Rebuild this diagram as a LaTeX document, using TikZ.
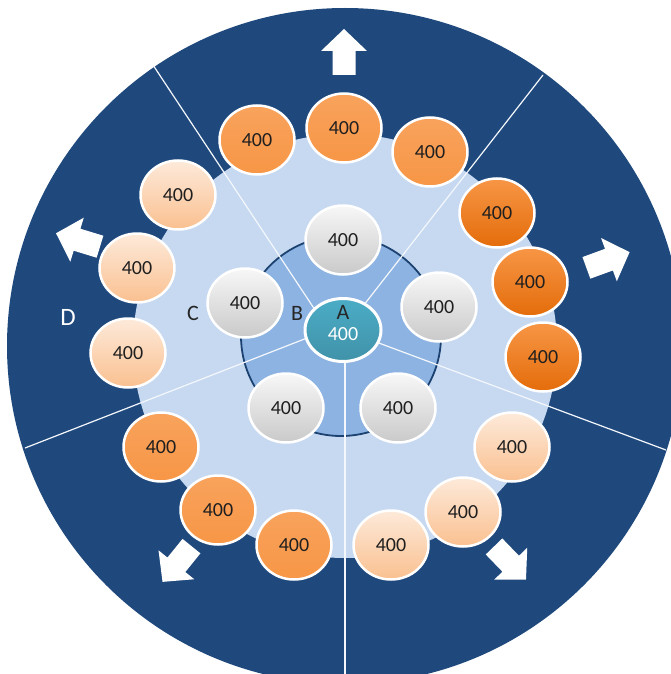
\documentclass[tikz,border=0pt]{standalone}
\usepackage{fontspec}
\setmainfont{Carlito}
\usetikzlibrary{shapes.geometric}

\definecolor{ringnavy}{HTML}{1F497D}
\definecolor{ringpale}{HTML}{C6D9F1}
\definecolor{ringmid}{HTML}{8DB3E2}
\definecolor{hubteal}{HTML}{4BACC6}
\definecolor{orgA}{HTML}{F79646}
\definecolor{orgB}{HTML}{E46C0A}
\definecolor{peachA}{HTML}{FDEADA}
\definecolor{peachB}{HTML}{FAC090}

\begin{document}
\begin{tikzpicture}[x=1pt,y=-1pt]


\tikzset{
  Seat/.style = { ellipse, draw=white, line width=2.5pt, inner sep=0pt,
                  minimum width=75pt, minimum height=69pt,
                  font=\fontsize{20}{20}\selectfont, text=black!88 },
  GraySeat/.style = { Seat, top color=gray!6, bottom color=gray!42 },
  OrangeSeat/.style = { Seat, top color=orgA!88!white, bottom color=orgA },
  DeepSeat/.style = { Seat, top color=orgA, bottom color=orgB },
  PeachSeat/.style = { Seat, top color=peachA, bottom color=peachB },
  Spoke/.style = { draw=white!80!ringpale, line width=1.2pt },
  Letter/.style = { font=\fontsize{22}{22}\selectfont, text=black!85 },
  pics/outarrow/.style = { code = {
    \fill[white] (-23,-11.5) -- (1,-11.5) -- (1,-23) -- (23,0)
                 -- (1,23) -- (1,11.5) -- (-23,11.5) -- cycle; } } }

  \useasboundingbox (0,0) rectangle (670,674);
  \coordinate (O) at (345,346);

  % rings
  \fill[ringnavy] (O) circle (338pt);
  \fill[ringpale] (O) circle (212pt);
  \filldraw[fill=ringmid, draw=ringnavy!90!black, line width=1.8pt] (341,336) circle (100pt);

  % spokes, inner ends hidden behind the hub
  \coordinate (ulin) at (325,325);  \coordinate (ulout) at (153,65);
  \coordinate (urin) at (360,310);  \coordinate (urout) at (543,75);
  \coordinate (llin) at (325,331);  \coordinate (llout) at (25,448);
  \coordinate (lrin) at (360,336);  \coordinate (lrout) at (666,450);
  \coordinate (dnin) at (345,340);  \coordinate (dnout) at (345,690);
  \draw[Spoke] (ulin) -- (ulout);
  \draw[Spoke] (urin) -- (urout);
  \draw[Spoke] (llin) -- (llout);
  \draw[Spoke] (lrin) -- (lrout);
  \draw[Spoke] (dnin) -- (dnout);

  % inner ring
  \node[GraySeat] (g1) at (343,240) {400};
  \node[GraySeat] (g2) at (439,307) {400};
  \node[GraySeat] (g3) at (398,408) {400};
  \node[GraySeat] (g4) at (286,408) {400};
  \node[GraySeat] (g5) at (245,303) {400};

  % hub
  \node[Seat, line width=3pt, minimum width=76pt, minimum height=63pt,
        top color=hubteal, bottom color=hubteal!85!black] (hub) at (343,330) {};
  \node[Letter] (labA) at (343,312) {A};
  \node[font=\fontsize{20}{20}\selectfont, text=white] (hubnum) at (343,334) {400};
  \node[Letter] (labB) at (297,313) {B};
  \node[Letter] (labC) at (193,313) {C};
  \node[font=\fontsize{25}{25}\selectfont, text=white] (labD) at (68,317) {D};

  % outer ring
  \node[OrangeSeat] (t1) at (257,140) {400};
  \node[OrangeSeat] (t2) at (344,128) {400};
  \node[OrangeSeat] (t3) at (430,152) {400};

  \node[DeepSeat] (r1) at (497,213) {400};
  \node[DeepSeat] (r2) at (530,282) {400};
  \node[DeepSeat] (r3) at (543,357) {400};

  \node[PeachSeat] (p1) at (512,447) {400};
  \node[PeachSeat] (p2) at (463,512) {400};
  \node[PeachSeat] (p3) at (391,545) {400};

  \node[OrangeSeat] (l1) at (161,447) {400};
  \node[OrangeSeat] (l2) at (218,510) {400};
  \node[OrangeSeat] (l3) at (294,545) {400};

  \node[PeachSeat] (w1) at (178,195) {400};
  \node[PeachSeat] (w2) at (137,268) {400};
  \node[PeachSeat] (w3) at (128,353) {400};

  % arrows
  \pic[rotate=90]  at (344,52)  {outarrow};
  \pic[rotate=20]  at (608,260) {outarrow};
  \pic[rotate=-46] at (510,563) {outarrow};
  \pic[rotate=-129] at (177,564) {outarrow};
  \pic[rotate=163] at (78,240)  {outarrow};

\end{tikzpicture}
\end{document}
